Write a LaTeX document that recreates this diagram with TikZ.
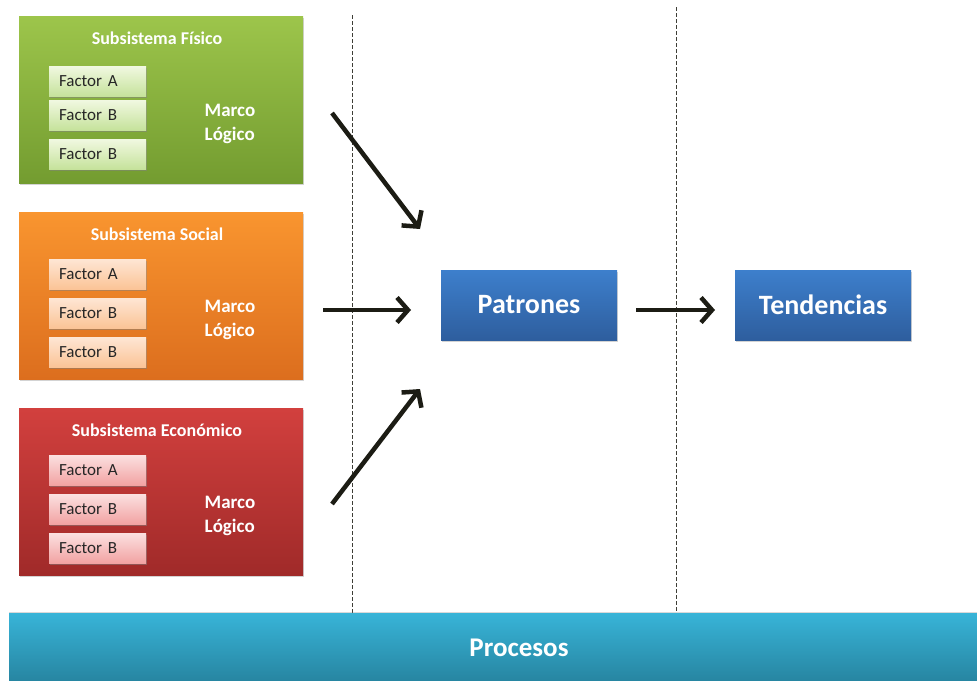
\documentclass[tikz,border=0pt]{standalone}
\usepackage{fontspec}
\setmainfont{Carlito}
\usetikzlibrary{arrows.meta,shadows}
\definecolor{gtop}{HTML}{9DC54B}
\definecolor{gbot}{HTML}{739C30}
\definecolor{otop}{HTML}{F9952F}
\definecolor{obot}{HTML}{DC6E1E}
\definecolor{rtop}{HTML}{D2403E}
\definecolor{rbot}{HTML}{A02A29}
\definecolor{btop}{HTML}{3D7FCC}
\definecolor{bbot}{HTML}{2E5E9E}
\definecolor{ctop}{HTML}{38B4D8}
\definecolor{cbot}{HTML}{2786A2}
\definecolor{gfa}{HTML}{F0F8E0}
\definecolor{gfb}{HTML}{C5E29A}
\definecolor{ofa}{HTML}{FEE6D4}
\definecolor{ofb}{HTML}{FBC497}
\definecolor{rfa}{HTML}{FBE0E0}
\definecolor{rfb}{HTML}{F2A3A3}
\definecolor{ink}{HTML}{1C1C14}
\tikzset{
  x=1pt,y=-1pt,
  sub/.style={rectangle,minimum width=284pt,minimum height=167pt,inner sep=0pt,
    drop shadow={shadow xshift=1pt,shadow yshift=-1.5pt,opacity=0.35}},
  title/.style={font=\bfseries\fontsize{18}{21}\selectfont,text=white},
  marco/.style={font=\bfseries\fontsize{19}{24}\selectfont,text=white,align=left},
  factor/.style={rectangle,minimum width=97pt,minimum height=30pt,inner sep=0pt,
    text width=77pt,align=left,
    font=\fontsize{17}{19}\selectfont,text=black!85,
    drop shadow={shadow xshift=0.5pt,shadow yshift=-1.5pt,opacity=0.5}},
  bluebox/.style={rectangle,minimum width=176pt,minimum height=70pt,inner sep=0pt,
    top color=btop,bottom color=bbot,font=\bfseries\fontsize{28}{32}\selectfont,text=white,
    drop shadow={shadow xshift=1pt,shadow yshift=-1.5pt,opacity=0.35}},
  arr/.style={line width=4.5pt,ink,-{Straight Barb[length=11pt,width=25pt,line width=4.5pt]}},
  sep/.style={ink!85,line width=0.7pt,dash pattern=on 3.5pt off 2.5pt}
}
\begin{document}
\begin{tikzpicture}
\useasboundingbox (0,0) rectangle (977,680);
% dashed separators
\coordinate (d1a) at (352,15); \coordinate (d1b) at (352,613);
\coordinate (d2a) at (676,7); \coordinate (d2b) at (676,613);
\draw[sep] (d1a) -- (d1b);
\draw[sep] (d2a) -- (d2b);
% green
\node[sub,top color=gtop,bottom color=gbot] (fis) at (161,99.5) {};
\node[title] (fist) at (157,38) {Subsistema Físico};
\node[factor,top color=gfa,bottom color=gfb] (fa1) at (97.5,81.5) {Factor A};
\node[factor,top color=gfa,bottom color=gfb] (fa2) at (97.5,115.5) {Factor B};
\node[factor,top color=gfa,bottom color=gfb] (fa3) at (97.5,154.5) {Factor B};
\node[marco] (fism) at (230,124) {Marco\\Lógico};
% orange
\node[sub,top color=otop,bottom color=obot] (soc) at (161,295.5) {};
\node[title] (soct) at (157,234) {Subsistema Social};
\node[factor,top color=ofa,bottom color=ofb] (so1) at (97.5,274) {Factor A};
\node[factor,top color=ofa,bottom color=ofb] (so2) at (97.5,313) {Factor B};
\node[factor,top color=ofa,bottom color=ofb] (so3) at (97.5,352) {Factor B};
\node[marco] (socm) at (230,320) {Marco\\Lógico};
% red
\node[sub,top color=rtop,bottom color=rbot] (eco) at (161,491.5) {};
\node[title] (ecot) at (157,430) {Subsistema Económico};
\node[factor,top color=rfa,bottom color=rfb] (ec1) at (97.5,470) {Factor A};
\node[factor,top color=rfa,bottom color=rfb] (ec2) at (97.5,509) {Factor B};
\node[factor,top color=rfa,bottom color=rfb] (ec3) at (97.5,548) {Factor B};
\node[marco] (ecom) at (230,516) {Marco\\Lógico};
% blue
\node[bluebox] (pat) at (529,305) {Patrones};
\node[bluebox] (ten) at (823,305) {Tendencias};
% procesos
\node[rectangle,minimum width=968pt,minimum height=67pt,inner sep=0pt,
  top color=ctop,bottom color=cbot,
  drop shadow={shadow xshift=0pt,shadow yshift=1pt,opacity=0.3}] (pro) at (493,646.5) {};
\node[font=\bfseries\fontsize{27}{30}\selectfont,text=white] (prot) at (519,648) {Procesos};
% arrows
\coordinate (a1s) at (332,113); \coordinate (a1e) at (420,229);
\coordinate (a2s) at (323,310); \coordinate (a2e) at (411,310);
\coordinate (a3s) at (332,504); \coordinate (a3e) at (420,389);
\draw[arr] (a1s) -- (a1e);
\draw[arr] (a2s) -- (a2e);
\draw[arr] (a3s) -- (a3e);
\coordinate (a4s) at (636,310); \coordinate (a4e) at (715,310);
\draw[arr] (a4s) -- (a4e);
\end{tikzpicture}
\end{document}
